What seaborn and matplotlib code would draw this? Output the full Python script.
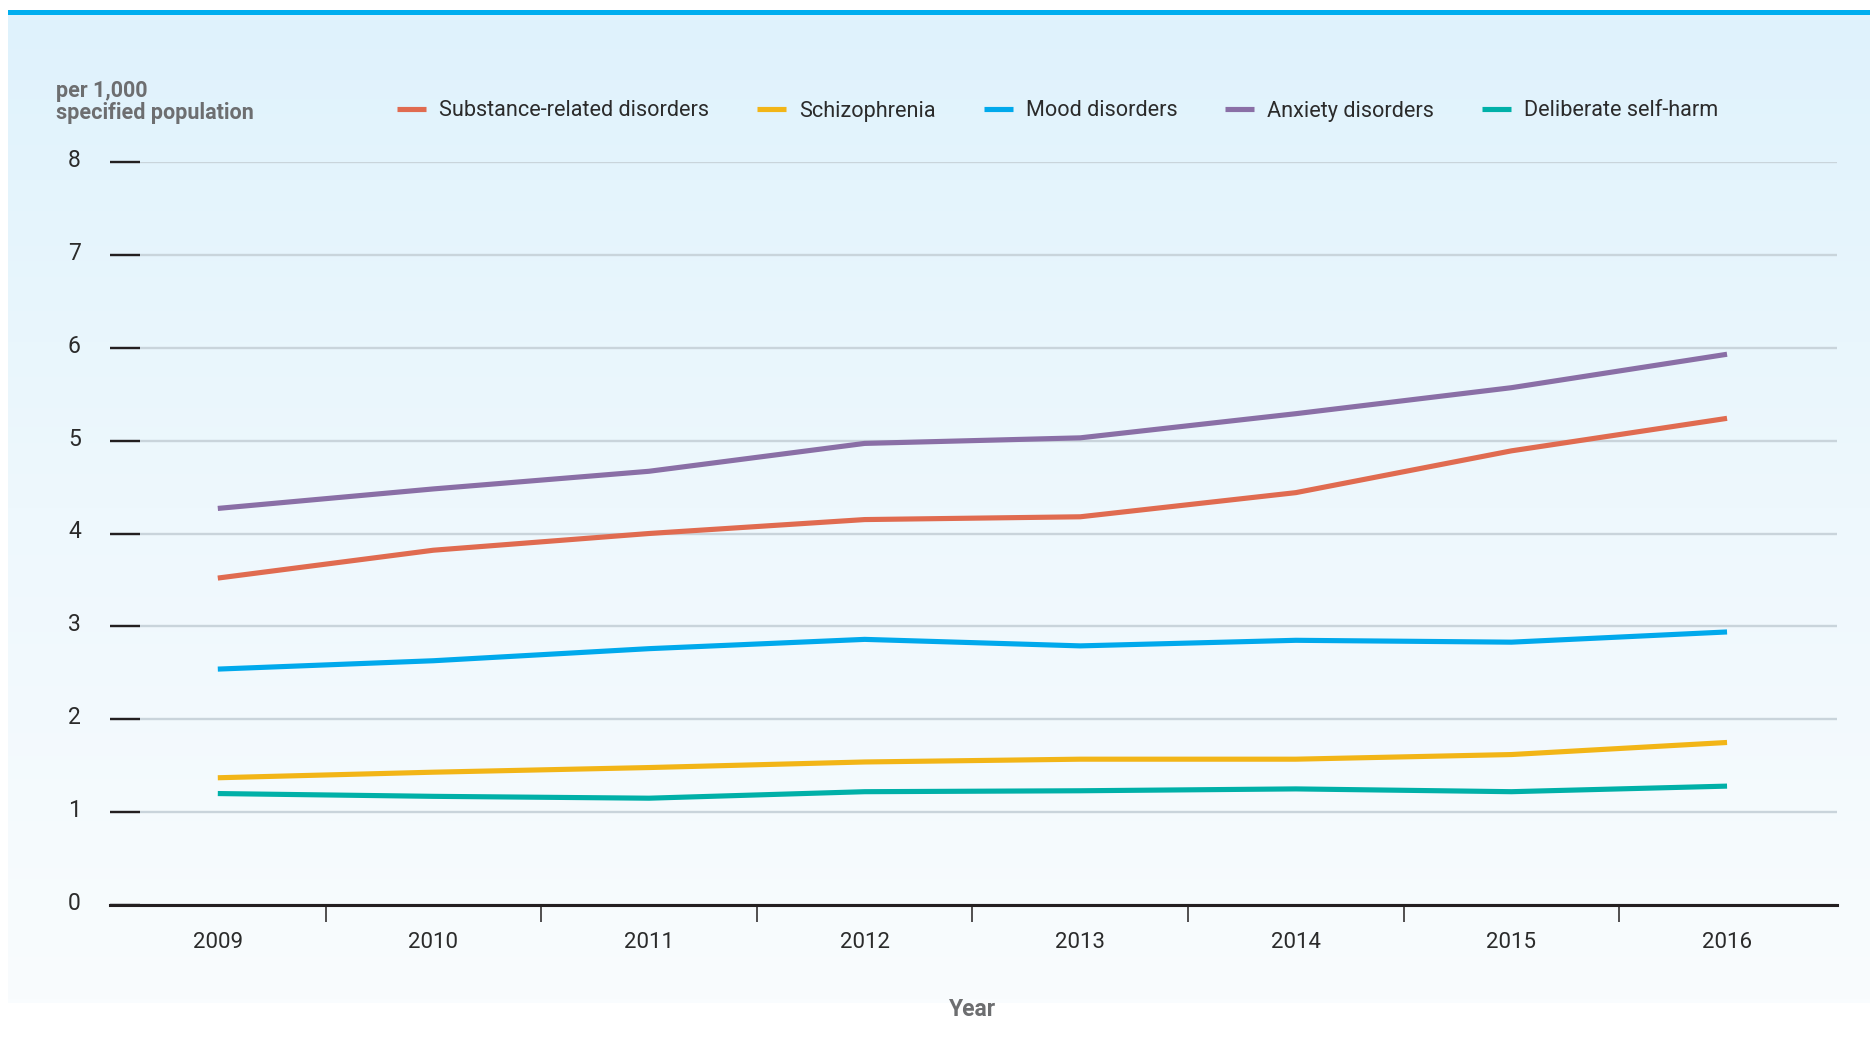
"""Hospitalisation rates for selected mental disorders, 2009-2016."""

import matplotlib

matplotlib.use("Agg")
import matplotlib.pyplot as plt
import numpy as np
import pandas as pd
import seaborn as sns
from matplotlib.colors import LinearSegmentedColormap
from matplotlib.patches import Rectangle
from matplotlib.transforms import ScaledTranslation

years = [2009, 2010, 2011, 2012, 2013, 2014, 2015, 2016]
disorders = [
    "Substance-related disorders",
    "Schizophrenia",
    "Mood disorders",
    "Anxiety disorders",
    "Deliberate self-harm",
]
substance = [3.52, 3.82, 4.00, 4.15, 4.18, 4.44, 4.89, 5.24]
schizophrenia = [1.37, 1.43, 1.48, 1.54, 1.57, 1.57, 1.62, 1.75]
mood = [2.54, 2.63, 2.76, 2.86, 2.79, 2.85, 2.83, 2.94]
anxiety = [4.27, 4.48, 4.67, 4.97, 5.03, 5.29, 5.57, 5.93]
self_harm = [1.20, 1.17, 1.15, 1.22, 1.23, 1.25, 1.22, 1.28]
colors = ["#e06b50", "#f2b517", "#00a9ec", "#8a6fa6", "#00b0a8"]
y_ticks = [0, 1, 2, 3, 4, 5, 6, 7, 8]

W, H = 1870, 1043
TEXT = "#2b2b2b"
GREY = "#6d6e70"
DARK = "#231f20"

sns.set_theme(style="white")
plt.rcParams["font.family"] = ["Roboto", "DejaVu Sans"]

frame = pd.DataFrame(
    {
        "year": years * len(disorders),
        "rate": substance + schizophrenia + mood + anxiety + self_harm,
        "disorder": [d for d in disorders for _ in years],
    }
)

fig = plt.figure(figsize=(W / 100, H / 100), dpi=100)
fig.patch.set_facecolor("white")

# background panel: soft blue gradient with a bright rule on top
bg = fig.add_axes([0, 0, 1, 1], zorder=-10)
cmap = LinearSegmentedColormap.from_list("panel", ["#dff2fc", "#eef8fd", "#f9fcfe"])
gradient = np.linspace(0, 1, 256).reshape(-1, 1)
bg.imshow(gradient, cmap=cmap, aspect="auto", extent=(8, W, 1003, 14))
bg.add_patch(Rectangle((8, 9.5), W - 8, 5, color="#00aeef", lw=0))
bg.set_xlim(0, W)
bg.set_ylim(H, 0)
bg.axis("off")

ax = fig.add_axes([110 / W, 1 - 905 / H, (1837 - 110) / W, (905 - 162) / H])
ax.set_facecolor("none")

sns.lineplot(
    data=frame,
    x="year",
    y="rate",
    hue="disorder",
    hue_order=disorders,
    palette=dict(zip(disorders, colors)),
    linewidth=3.7,
    solid_capstyle="butt",
    ax=ax,
)

ax.set_xlim(2008.5, 2016.51)
ax.set_ylim(0, 8)
ax.set_xlabel("")
ax.set_ylabel("")

for side in ["top", "right", "left"]:
    ax.spines[side].set_visible(False)
ax.spines["bottom"].set_color(DARK)
ax.spines["bottom"].set_linewidth(2.2)

ax.set_yticks(y_ticks)
ax.set_yticklabels([str(v) for v in y_ticks])
ax.yaxis.grid(True, color="#c9d4db", linewidth=1.7)
ax.xaxis.grid(False)
ax.set_axisbelow(True)
ax.tick_params(
    axis="y", direction="in", length=21.6, width=1.7, color=DARK,
    pad=21, labelsize=16.5, labelcolor=TEXT, left=True,
)

ax.set_xticks(years)
ax.set_xticklabels([str(y) for y in years])
ax.set_xticks([y + 0.5 for y in years[:-1]], minor=True)
ax.tick_params(axis="x", which="major", length=0, pad=19.5, labelsize=16, labelcolor=TEXT)
ax.tick_params(axis="x", which="minor", direction="out", length=12, width=1.1, color=DARK, bottom=True)

# nudge y labels up a little, as in the reference
for label in ax.get_yticklabels():
    label.set_transform(label.get_transform() + ScaledTranslation(0, 0.04, fig.dpi_scale_trans))

handles, labels = ax.get_legend_handles_labels()
ax.get_legend().remove()
fig.legend(
    handles,
    labels,
    loc="center left",
    bbox_to_anchor=(386 / W, 1 - 111 / H),
    ncol=5,
    frameon=False,
    fontsize=15.6,
    labelcolor=TEXT,
    handlelength=1.33,
    handletextpad=0.6,
    columnspacing=2.23,
    borderpad=0,
)

fig.text(56 / W, 1 - 97 / H, "per 1,000", fontsize=15.5, fontweight="bold", color=GREY, va="baseline")
fig.text(56 / W, 1 - 119 / H, "specified population", fontsize=15.5, fontweight="bold", color=GREY, va="baseline")
fig.text(973 / W, 1 - 1009 / H, "Year", fontsize=16.5, fontweight="bold", color=GREY, ha="center", va="center")

fig.savefig("out.png", dpi=100, facecolor=fig.get_facecolor())
plt.close(fig)
